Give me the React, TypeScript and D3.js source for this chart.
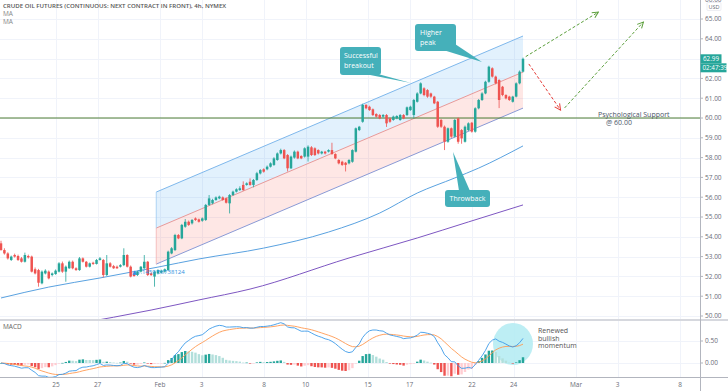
import * as d3 from 'd3';

const W = 728;
const H = 391;

const title = 'CRUDE OIL FUTURES (CONTINUOUS: NEXT CONTRACT IN FRONT), 4h, NYMEX';

// 4h bars: [open, high, low, close]
const candles: [number, number, number, number][] = [
  [53.67, 53.8, 53.3, 53.33], [53.33, 53.42, 53.1, 53.16], [53.16, 53.22, 52.85, 52.91], [52.83, 53.05, 52.78, 53.0],
  [53.08, 53.15, 52.95, 53.0], [53.03, 53.1, 52.78, 52.83], [52.91, 52.98, 52.7, 52.74], [52.74, 53.2, 52.7, 53.08],
  [53.03, 53.1, 52.9, 52.96], [53.0, 53.05, 52.2, 52.24], [52.36, 52.45, 52.1, 52.15], [52.32, 52.38, 51.48, 51.68],
  [51.65, 52.3, 51.6, 52.24], [52.15, 52.36, 52.1, 52.29], [52.24, 52.3, 51.85, 51.9], [52.07, 52.2, 52.0, 52.15],
  [52.12, 52.35, 52.08, 52.29], [52.24, 52.72, 52.2, 52.66], [52.66, 52.75, 52.18, 52.24], [52.24, 52.55, 51.73, 52.49],
  [52.41, 52.8, 52.38, 52.74], [52.74, 52.8, 52.36, 52.41], [52.41, 52.46, 52.28, 52.32], [52.32, 52.98, 52.28, 52.91],
  [52.91, 52.96, 52.7, 52.74], [52.74, 52.78, 52.45, 52.49], [52.49, 52.7, 52.45, 52.66], [52.69, 52.74, 52.58, 52.63],
  [52.63, 52.88, 52.6, 52.83], [52.83, 52.98, 52.8, 52.91], [52.83, 52.88, 51.95, 52.07], [52.07, 53.08, 52.02, 52.66],
  [52.66, 52.72, 52.45, 52.49], [52.52, 52.58, 52.38, 52.41], [52.49, 52.55, 52.38, 52.41], [52.49, 52.62, 52.45, 52.57],
  [52.57, 53.42, 52.52, 53.08], [53.08, 53.12, 52.45, 52.49], [52.49, 52.55, 51.95, 51.99], [52.19, 52.24, 51.98, 52.02],
  [52.07, 52.28, 52.02, 52.24], [52.24, 52.52, 52.2, 52.49], [52.41, 53.08, 52.38, 52.74], [52.74, 52.78, 52.02, 52.07],
  [52.15, 52.2, 52.02, 52.07], [51.99, 52.28, 51.48, 52.24], [52.15, 52.36, 52.1, 52.32], [52.19, 52.34, 52.15, 52.29],
  [52.24, 52.4, 52.2, 52.36], [52.32, 53.3, 52.28, 53.25], [53.16, 53.48, 53.12, 53.42], [53.33, 54.15, 53.28, 54.09],
  [54.09, 54.14, 53.88, 53.92], [53.92, 54.65, 53.88, 54.6], [54.51, 54.9, 54.46, 54.76], [54.76, 54.82, 54.55, 54.6],
  [54.68, 54.9, 54.62, 54.85], [54.93, 54.98, 54.8, 54.85], [54.88, 54.92, 54.72, 54.76], [54.81, 54.98, 54.76, 54.93],
  [54.85, 55.66, 54.8, 55.61], [55.61, 56.11, 55.56, 55.94], [55.69, 55.92, 55.64, 55.86], [55.86, 56.04, 55.82, 55.99],
  [55.94, 56.08, 55.9, 56.03], [55.99, 56.04, 55.82, 55.86], [55.94, 55.99, 55.68, 55.72], [55.69, 56.16, 55.18, 56.11],
  [56.11, 56.33, 56.06, 56.28], [56.28, 56.45, 56.24, 56.4], [56.36, 56.55, 56.32, 56.45], [56.62, 56.8, 56.32, 56.36],
  [56.62, 56.75, 56.58, 56.7], [56.78, 56.95, 56.58, 56.62], [56.62, 56.92, 56.5, 56.87], [56.87, 57.28, 56.82, 57.21],
  [57.2, 57.42, 57.15, 57.37], [57.41, 57.46, 57.24, 57.29], [57.41, 57.6, 57.36, 57.54], [57.54, 57.76, 57.5, 57.71],
  [57.63, 58.02, 57.58, 57.96], [57.88, 58.26, 57.84, 58.21], [58.21, 58.45, 58.16, 58.38], [58.38, 58.43, 57.92, 57.96],
  [58.13, 58.18, 57.3, 57.46], [57.46, 58.1, 57.42, 58.05], [58.0, 58.36, 57.95, 58.3], [58.3, 58.35, 57.92, 57.96],
  [58.08, 58.12, 57.92, 57.96], [58.05, 58.52, 58.0, 58.47], [58.05, 58.62, 57.8, 58.55], [58.52, 58.58, 58.08, 58.13],
  [58.47, 58.52, 58.08, 58.13], [58.38, 58.42, 58.16, 58.21], [58.21, 58.34, 58.16, 58.3], [58.3, 58.34, 58.16, 58.21],
  [58.3, 58.42, 58.26, 58.38], [58.38, 58.75, 58.14, 58.18], [58.18, 58.22, 57.92, 57.96], [57.88, 57.92, 57.66, 57.71],
  [57.79, 57.84, 57.58, 57.63], [57.74, 57.78, 57.3, 57.63], [57.71, 57.92, 57.66, 57.88], [57.79, 58.42, 57.74, 58.38],
  [58.3, 59.52, 58.26, 59.48], [59.39, 59.6, 59.34, 59.56], [59.81, 60.72, 59.76, 60.66], [60.66, 60.7, 60.44, 60.49],
  [60.57, 60.62, 60.36, 60.4], [60.44, 60.48, 60.1, 60.15], [60.2, 60.24, 60.02, 60.07], [60.15, 60.2, 59.94, 59.98],
  [60.07, 60.2, 60.02, 60.15], [60.15, 60.2, 59.55, 59.73], [59.98, 60.02, 59.76, 59.81], [59.9, 60.12, 59.86, 60.07],
  [59.98, 60.14, 59.94, 60.1], [59.9, 60.2, 59.86, 60.15], [60.15, 60.2, 59.94, 59.98], [60.15, 60.58, 60.1, 60.54],
  [60.4, 60.62, 60.36, 60.57], [60.15, 60.96, 59.98, 60.91], [60.82, 61.3, 60.78, 61.24], [61.24, 61.8, 61.2, 61.75],
  [61.5, 61.55, 61.1, 61.16], [61.41, 61.46, 61.02, 61.08], [61.24, 61.28, 61.02, 61.08], [61.08, 61.12, 60.7, 60.74],
  [60.82, 60.86, 59.5, 59.56], [59.9, 59.95, 59.5, 59.56], [59.56, 59.62, 58.38, 58.8], [58.8, 59.52, 58.75, 59.48],
  [59.48, 59.52, 59.0, 59.06], [59.06, 59.95, 59.02, 59.9], [59.98, 60.02, 58.7, 58.8], [59.39, 59.44, 58.7, 58.97],
  [58.8, 59.62, 58.76, 59.56], [59.39, 59.78, 59.34, 59.73], [59.76, 59.8, 59.26, 59.31], [59.31, 60.54, 59.26, 60.49],
  [60.49, 60.96, 60.44, 60.91], [60.91, 61.3, 60.86, 61.24], [61.24, 61.88, 61.2, 61.83], [61.83, 62.64, 61.78, 62.59],
  [62.51, 62.56, 62.04, 62.09], [62.09, 62.14, 61.7, 61.75], [61.92, 61.96, 60.5, 60.91], [61.58, 61.62, 61.1, 61.16],
  [61.16, 61.2, 60.94, 60.99], [61.08, 61.12, 60.86, 60.91], [60.82, 61.12, 60.78, 61.08], [61.08, 61.8, 61.04, 61.75],
  [61.75, 62.4, 61.7, 62.34], [62.34, 63.05, 62.3, 62.99],
];

// moving averages, sampled at bar index
const fastMaIdx = [0, 14, 29, 46, 58, 77, 96, 111, 122, 133, 140, 153];
const fastMaVal = [50.91, 51.46, 51.92, 52.47, 52.88, 53.43, 54.24, 55.2, 56.21, 56.97, 57.47, 58.59];
const slowMaIdx = [22, 44, 58, 73, 102, 122, 137, 153];
const slowMaVal = [49.6, 50.3, 50.81, 51.36, 52.93, 53.94, 54.75, 55.61];

// regression channel (bar index, mid price, half width)
const channelIdx = [45.5, 153];
const channelMid = [54.44, 62.32];
const channelHalf = 1.82;

const supportLevel = 60;

const priceTicks = [50, 51, 52, 53, 54, 55, 56, 57, 58, 59, 60, 61, 62, 63, 64, 65, 66];
const macdTicks = [0, 0.5];
const dayTickLabels = ['25', '27', 'Feb', '3', '8', '10', '15', '17', '22', '24', 'Mar', '3', '8'];
const dayTickOffsets = [0, 2, 5, 7, 10, 12, 15, 17, 20, 22, 25, 27, 30];

// projected path arrows [fromIdx, fromPrice, toIdx, toPrice]
const arrowsUp = [
  [153.8, 63.1, 175.1, 65.35],
  [165.2, 60.51, 188.3, 64.85],
];
const arrowsDown = [[154.7, 62.73, 164, 60.4]];

const GREEN = '#26a69a';
const RED = '#ef5350';
const CALLOUT = '#45b0ba';
const FONT = '"Open Sans", "DejaVu Sans", sans-serif';

const ema = (vals: number[], n: number) => {
  const k = 2 / (n + 1);
  let e = vals[0];
  return vals.map((v) => (e = v * k + e * (1 - k)));
};

export default function App() {
  const axisX = 700;
  const mainBottom = 319;
  const macdTop = 321;
  const macdBottom = 377;

  const xBar = d3.scaleLinear().domain([0, candles.length - 1]).range([1, 523]);
  const xDay = d3.scaleLinear().domain([0, 30]).range([56, 680]);
  const yP = d3.scaleLinear().domain([50, 60]).range([316, 118]);
  const yM = d3.scaleLinear().domain([0, 0.5]).range([363, 341]);

  const closes = candles.map((c) => c[3]);
  const e12 = ema(closes, 12);
  const e26 = ema(closes, 26);
  const macd = e12.map((v, i) => v - e26[i]);
  const signal = ema(macd, 9);
  const hist = macd.map((v, i) => v - signal[i]);

  const maLine = d3
    .line<[number, number]>()
    .x((d) => xBar(d[0]))
    .y((d) => yP(d[1]))
    .curve(d3.curveMonotoneX);
  const fastPts = fastMaIdx.map((d, i) => [d, fastMaVal[i]] as [number, number]);
  const slowPts = slowMaIdx.map((d, i) => [d, slowMaVal[i]] as [number, number]);

  const macdLine = d3
    .line<number>()
    .x((_, i) => xBar(i))
    .y((d) => yM(d));

  // channel geometry
  const cx0 = xBar(channelIdx[0]);
  const cx1 = xBar(channelIdx[1]);
  const up0 = yP(channelMid[0] + channelHalf);
  const up1 = yP(channelMid[1] + channelHalf);
  const md0 = yP(channelMid[0]);
  const md1 = yP(channelMid[1]);
  const lo0 = yP(channelMid[0] - channelHalf);
  const lo1 = yP(channelMid[1] - channelHalf);

  const last = closes[closes.length - 1];
  const lastY = yP(last);

  const txt = { fontFamily: FONT, fontSize: 6.5, fill: '#6a6d78' };

  // the last-price tag hides any tick label under it
  const visibleTicks = priceTicks.filter((p) => Math.abs(yP(p) - lastY) > 9);

  return (
    <svg
      width={W}
      height={H}
      style={{ position: 'absolute', left: 0, top: 0, background: '#fff' }}
    >
      <defs>
        <clipPath id="main">
          <rect x={0} y={0} width={axisX} height={mainBottom} />
        </clipPath>
        <clipPath id="macd">
          <rect x={0} y={macdTop} width={axisX} height={macdBottom - macdTop} />
        </clipPath>
        <marker id="headG" viewBox="0 0 8 8" refX="7" refY="4" markerWidth="8" markerHeight="8" orient="auto" markerUnits="userSpaceOnUse">
          <path d="M1,1 L7,4 L1,7" fill="none" stroke="#5a9e3a" strokeWidth={1} />
        </marker>
        <marker id="headR" viewBox="0 0 8 8" refX="7" refY="4" markerWidth="8" markerHeight="8" orient="auto" markerUnits="userSpaceOnUse">
          <path d="M1,1 L7,4 L1,7" fill="none" stroke="#e53935" strokeWidth={1} />
        </marker>
      </defs>

      {/* grid */}
      <g stroke="#f0f3fa" strokeWidth={1}>
        {dayTickOffsets.map((d, i) => (
          <line key={i} x1={Math.round(xDay(d)) + 0.5} x2={Math.round(xDay(d)) + 0.5} y1={0} y2={macdBottom} />
        ))}
        {priceTicks.map((p) => (
          <line key={p} x1={0} x2={axisX} y1={Math.round(yP(p)) + 0.5} y2={Math.round(yP(p)) + 0.5} />
        ))}
        {macdTicks.map((m) => (
          <line key={m} x1={0} x2={axisX} y1={Math.round(yM(m)) + 0.5} y2={Math.round(yM(m)) + 0.5} />
        ))}
      </g>

      <g clipPath="url(#main)">
        {/* channel fills */}
        <polygon points={`${cx0},${up0} ${cx1},${up1} ${cx1},${md1} ${cx0},${md0}`} fill="rgba(33,150,243,0.13)" />
        <polygon points={`${cx0},${md0} ${cx1},${md1} ${cx1},${lo1} ${cx0},${lo0}`} fill="rgba(244,67,54,0.13)" />
        <line x1={cx0} y1={up0} x2={cx1} y2={up1} stroke="#7fb8ec" strokeWidth={1} />
        <line x1={cx0} y1={md0} x2={cx1} y2={md1} stroke="#e89a9a" strokeWidth={1} />
        <line x1={cx0} y1={lo0} x2={cx1} y2={lo1} stroke="#8a9ad6" strokeWidth={1} />
        <line x1={cx0} y1={up0} x2={cx0} y2={md0} stroke="#9cc8ef" strokeWidth={0.8} />
        <line x1={cx0} y1={md0} x2={cx0} y2={lo0} stroke="#f0b0b0" strokeWidth={0.8} />

        {/* moving averages */}
        <path d={maLine(fastPts) || ''} fill="none" stroke="#5aa2e0" strokeWidth={1} />
        <path d={maLine(slowPts) || ''} fill="none" stroke="#7e57c2" strokeWidth={1} />

        {/* support */}
        <line x1={0} x2={axisX} y1={yP(supportLevel)} y2={yP(supportLevel)} stroke="#4f7f35" strokeWidth={1.2} />

        {/* candles */}
        {candles.map(([o, h, l, c], i) => {
          const x = xBar(i);
          const col = c >= o ? GREEN : RED;
          const top = yP(Math.max(o, c));
          const bh = Math.max(0.8, Math.abs(yP(o) - yP(c)));
          return (
            <g key={i}>
              <line x1={x} x2={x} y1={yP(h)} y2={yP(l)} stroke={col} strokeWidth={0.8} />
              <rect x={x - 1.25} y={top} width={2.5} height={bh} fill={col} />
            </g>
          );
        })}

        <text x={xBar(38.5)} y={yP(52.1)} fontFamily={FONT} fontSize={6} fill="#2f8fe0">
          ▲1.1459 56738124
        </text>

        {/* projection arrows */}
        {arrowsUp.map((a, i) => (
          <line key={i} x1={xBar(a[0])} y1={yP(a[1])} x2={xBar(a[2])} y2={yP(a[3])} stroke="#5a9e3a" strokeWidth={1} strokeDasharray="3,2" markerEnd="url(#headG)" />
        ))}
        {arrowsDown.map((a, i) => (
          <line key={i} x1={xBar(a[0])} y1={yP(a[1])} x2={xBar(a[2])} y2={yP(a[3])} stroke="#e53935" strokeWidth={1} strokeDasharray="3,2" markerEnd="url(#headR)" />
        ))}

        {/* callouts */}
        <g fontFamily={FONT} fontSize={7} fill="#fff">
          <polygon points="365,74 378,74 411,83" fill={CALLOUT} />
          <rect x={340} y={47} width={41} height={28} rx={3} fill={CALLOUT} />
          <text x={344} y={58}>Successful</text>
          <text x={344} y={68}>breakout</text>

          <polygon points="440,49 455,44 482,62" fill={CALLOUT} />
          <rect x={415} y={24} width={41} height={27} rx={3} fill={CALLOUT} />
          <text x={420} y={35}>Higher</text>
          <text x={420} y={45}>peak</text>

          <polygon points="459,191 470,191 453,152" fill={CALLOUT} />
          <rect x={445} y={190} width={45} height={17} rx={3} fill={CALLOUT} />
          <text x={467.5} y={201} textAnchor="middle">Throwback</text>
        </g>

        <g fontFamily={FONT} fontSize={7} fill="#4a5568">
          <text x={598} y={117}>Psychological Support</text>
          <text x={606} y={125}>@ 60.00</text>
        </g>
      </g>

      {/* MACD pane */}
      <g clipPath="url(#macd)">
        <ellipse cx={513} cy={344} rx={20} ry={21} fill="#b2ebf2" opacity={0.85} />
        {hist.map((h, i) => {
          const prev = i > 0 ? hist[i - 1] : 0;
          const col = h >= 0 ? (h >= prev ? GREEN : '#b2dfdb') : h <= prev ? RED : '#ffcdd2';
          const y0 = yM(0);
          const y1 = yM(h);
          return <rect key={i} x={xBar(i) - 1.2} width={2.4} y={Math.min(y0, y1)} height={Math.max(0.6, Math.abs(y1 - y0))} fill={col} />;
        })}
        <path d={macdLine(signal) || ''} fill="none" stroke="#ff9a52" strokeWidth={0.9} />
        <path d={macdLine(macd) || ''} fill="none" stroke="#3d9be9" strokeWidth={0.9} />
        <g fontFamily={FONT} fontSize={7} fill="#555">
          <text x={538} y={333}>Renewed</text>
          <text x={538} y={340.5}>bullish</text>
          <text x={538} y={348}>momentum</text>
        </g>
      </g>

      {/* pane separators and axes */}
      <rect x={0} y={mainBottom} width={W} height={2} fill="#d6d8de" />
      <line x1={0} x2={W} y1={macdBottom + 0.5} y2={macdBottom + 0.5} stroke="#b2b5be" />
      <line x1={axisX + 0.5} x2={axisX + 0.5} y1={0} y2={H} stroke="#b2b5be" />

      {/* titles */}
      <text x={3} y={8} fontFamily={FONT} fontSize={6.1} fill="#555" fontWeight={600}>{title}</text>
      <text x={3} y={16} {...txt} fill="#888">MA</text>
      <text x={3} y={24} {...txt} fill="#888">MA</text>
      <text x={3} y={329} {...txt} fill="#666">MACD</text>

      {/* price axis */}
      {priceTicks.map((p) => (
        <line key={p} x1={axisX} x2={axisX + 3} y1={yP(p)} y2={yP(p)} stroke="#b2b5be" />
      ))}
      {visibleTicks.map((p) => (
        <text key={p} x={axisX + 5} y={yP(p) + 2.3} {...txt}>{p.toFixed(2)}</text>
      ))}
      <rect x={707} y={2.5} width={14} height={8} fill="#fff" stroke="#e0e3eb" strokeWidth={0.6} rx={1} />
      <text x={714} y={8.6} textAnchor="middle" fontFamily={FONT} fontSize={5.5} fill="#6a6d78">USD</text>

      {macdTicks.map((m) => (
        <g key={m}>
          <line x1={axisX} x2={axisX + 3} y1={yM(m)} y2={yM(m)} stroke="#b2b5be" />
          <text x={axisX + 5} y={yM(m) + 2.3} {...txt}>{m.toFixed(2)}</text>
        </g>
      ))}

      {/* last price */}
      <rect x={axisX + 0.5} y={lastY - 4.5} width={21} height={9} fill={GREEN} />
      <text x={axisX + 3} y={lastY + 2.2} fontFamily={FONT} fontSize={6.3} fill="#fff">{last.toFixed(2)}</text>
      <rect x={axisX + 0.5} y={lastY + 4.5} width={26} height={9} fill={GREEN} />
      <text x={axisX + 2.5} y={lastY + 11.2} fontFamily={FONT} fontSize={6.3} fill="#fff">02:47:39</text>

      {/* time axis */}
      {dayTickLabels.map((t, i) => (
        <text key={i} x={xDay(dayTickOffsets[i])} y={387} textAnchor="middle" {...txt}>{t}</text>
      ))}
    </svg>
  );
}
